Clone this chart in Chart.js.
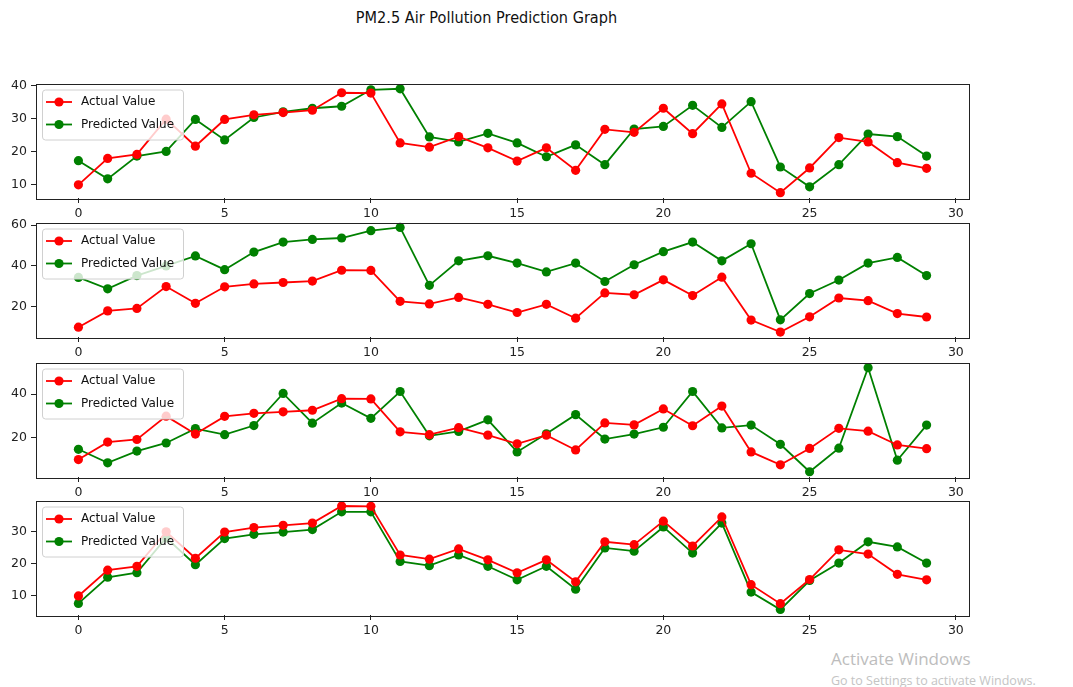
<!DOCTYPE html>
<html>
<head>
<meta charset="utf-8">
<script src="https://cdn.jsdelivr.net/npm/chart.js@4"></script>
<style>
  body { margin: 0; background: #fff; width: 1073px; height: 687px; overflow: hidden; position: relative; font-family: "DejaVu Sans", sans-serif; }
  .title { position: absolute; left: 0; width: 973px; top: 9px; text-align: center; font-size: 14.5px; color: #111; transform: scaleY(1.12); }
  .panel { position: absolute; left: 0; width: 1000px; height: 156px; }
  .wm1 { position: absolute; left: 831px; top: 647px; font-family: "Open Sans", sans-serif; font-size: 17px; color: #bdbdbd; }
  .wm2 { position: absolute; left: 831px; top: 672px; font-family: "Open Sans", sans-serif; font-size: 12.5px; color: #c4c4c4; white-space: nowrap; }
</style>
</head>
<body>
<div class="title">PM2.5 Air Pollution Prediction Graph</div>
<div class="panel" style="top:72px"><canvas id="chart1" width="1000" height="156"></canvas></div>
<div class="panel" style="top:211px"><canvas id="chart2" width="1000" height="156"></canvas></div>
<div class="panel" style="top:351px"><canvas id="chart3" width="1000" height="156"></canvas></div>
<div class="panel" style="top:489px"><canvas id="chart4" width="1000" height="156"></canvas></div>
<div class="wm1">Activate Windows</div>
<div class="wm2">Go to Settings to activate Windows.</div>
<script>
const steps = [0, 1, 2, 3, 4, 5, 6, 7, 8, 9, 10, 11, 12, 13, 14, 15, 16, 17, 18, 19, 20, 21, 22, 23, 24, 25, 26, 27, 28, 29];
const xTicks = [0, 5, 10, 15, 20, 25, 30];

const actual = [10.0, 18.0, 19.2, 29.9, 21.7, 29.8, 31.2, 31.9, 32.6, 37.9, 37.8, 22.7, 21.4, 24.6, 21.2, 17.2, 21.2, 14.4, 26.8, 25.9, 33.2, 25.5, 34.5, 13.5, 7.6, 15.1, 24.3, 23.0, 16.7, 15.0];

const predicted1 = [17.3, 11.8, 18.7, 20.1, 29.8, 23.6, 30.4, 32.1, 33.2, 33.8, 38.8, 39.1, 24.5, 23.0, 25.6, 22.7, 18.5, 22.1, 16.1, 26.9, 27.7, 34.1, 27.4, 35.2, 15.4, 9.4, 16.1, 25.4, 24.6, 18.7];
const predicted2 = [34.4, 28.8, 35.3, 40.0, 44.9, 38.2, 46.8, 51.7, 53.0, 53.7, 57.3, 58.9, 30.5, 42.5, 45.0, 41.4, 37.1, 41.4, 32.4, 40.6, 47.0, 51.7, 42.5, 50.9, 13.6, 26.5, 33.1, 41.4, 44.2, 35.3];
const predicted3 = [14.7, 8.5, 13.9, 17.6, 24.2, 21.4, 25.6, 40.3, 26.7, 35.9, 28.9, 41.2, 20.9, 22.9, 28.2, 13.5, 21.8, 30.6, 19.4, 21.7, 24.8, 41.2, 24.5, 25.8, 17.0, 4.4, 15.2, 52.1, 9.7, 25.8];
const predicted4 = [7.7, 15.8, 17.2, 28.0, 19.7, 27.8, 29.1, 29.8, 30.6, 36.1, 36.1, 20.7, 19.4, 22.7, 19.2, 15.0, 19.2, 12.1, 24.9, 23.9, 31.4, 23.3, 32.6, 11.2, 5.8, 14.8, 20.2, 26.8, 25.2, 20.2];

const yTicks1 = [10, 20, 30, 40];
const yTicks2 = [20, 40, 60];
const yTicks3 = [20, 40];
const yTicks4 = [10, 20, 30];

const seriesLabels = ["Actual Value", "Predicted Value"];

const panels = [
  { id: "chart1", pred: predicted1, ticks: yTicks1, min: 6.0, max: 40.7 },
  { id: "chart2", pred: predicted2, ticks: yTicks2, min: 5.2, max: 61.3 },
  { id: "chart3", pred: predicted3, ticks: yTicks3, min: 2.0, max: 54.5 },
  { id: "chart4", pred: predicted4, ticks: yTicks4, min: 4.1, max: 39.6 },
];

// box around the plot + legend in the upper-left corner, like matplotlib
const framePlugin = {
  id: "frame",
  afterDatasetsDraw(chart) {
    const { ctx, chartArea: a } = chart;
    ctx.save();
    ctx.strokeStyle = "#222";
    ctx.lineWidth = 1;
    ctx.strokeRect(Math.round(a.left) + 0.5, Math.round(a.top) + 0.5, Math.round(a.right - a.left), Math.round(a.bottom - a.top));

    const bx = a.left + 6, by = a.top + 6, bw = 141, bh = 50;
    ctx.fillStyle = "rgba(255,255,255,0.8)";
    ctx.strokeStyle = "#d0d0d0";
    ctx.beginPath();
    ctx.roundRect(bx + 0.5, by + 0.5, bw, bh, 3);
    ctx.fill();
    ctx.stroke();

    chart.data.datasets.forEach((ds, i) => {
      const y = by + 12.5 + i * 22.5;
      ctx.strokeStyle = ds.borderColor;
      ctx.lineWidth = 1.8;
      ctx.beginPath();
      ctx.moveTo(bx + 4, y);
      ctx.lineTo(bx + 30, y);
      ctx.stroke();
      ctx.fillStyle = ds.borderColor;
      ctx.beginPath();
      ctx.arc(bx + 17, y, 4.6, 0, Math.PI * 2);
      ctx.fill();
      ctx.fillStyle = "#111";
      ctx.font = "12px 'DejaVu Sans'";
      ctx.textBaseline = "middle";
      ctx.fillText(ds.label, bx + 39, y);
    });
    ctx.restore();
  },
};

const tickFont = { family: "DejaVu Sans", size: 12.5 };

panels.forEach((p) => {
  const ctx = document.getElementById(p.id);
  new Chart(ctx, {
    type: "line",
    data: {
      datasets: [
        {
          label: seriesLabels[0],
          data: steps.map((s, i) => ({ x: s, y: actual[i] })),
          borderColor: "#ff0000",
          backgroundColor: "#ff0000",
          borderWidth: 1.8,
          pointRadius: 4.6,
          pointBorderWidth: 0,
          tension: 0,
        },
        {
          label: seriesLabels[1],
          data: steps.map((s, i) => ({ x: s, y: p.pred[i] })),
          borderColor: "#008000",
          backgroundColor: "#008000",
          borderWidth: 1.8,
          pointRadius: 4.6,
          pointBorderWidth: 0,
          tension: 0,
        },
      ],
    },
    options: {
      responsive: false,
      animation: false,
      devicePixelRatio: 1,
      clip: false,
      layout: { padding: { top: 10, right: 31, left: 0, bottom: 0 } },
      plugins: { legend: { display: false }, tooltip: { enabled: false } },
      scales: {
        x: {
          type: "linear",
          min: -1.45,
          max: 30.45,
          afterBuildTicks: (scale) => { scale.ticks = xTicks.map((v) => ({ value: v })); },
          afterFit: (scale) => { scale.height = 30; },
          grid: { display: true, drawOnChartArea: false, tickLength: 5, color: "#222" },
          border: { display: false },
          ticks: { font: tickFont, color: "#222", padding: 3, maxRotation: 0 },
        },
        y: {
          min: p.min,
          max: p.max,
          afterBuildTicks: (scale) => { scale.ticks = p.ticks.map((v) => ({ value: v })); },
          afterFit: (scale) => { scale.width = 36; },
          grid: { display: true, drawOnChartArea: false, tickLength: 5, color: "#222" },
          border: { display: false },
          ticks: { font: tickFont, color: "#222", padding: 4 },
        },
      },
    },
    plugins: [framePlugin],
  });
});
</script>
</body>
</html>
